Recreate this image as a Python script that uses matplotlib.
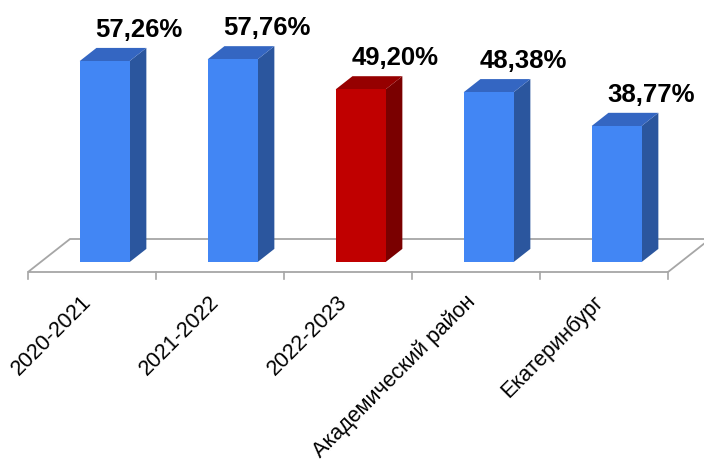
import matplotlib
matplotlib.use("Agg")
import matplotlib.pyplot as plt
from matplotlib.patches import Polygon

# данные
categories = ["2020-2021", "2021-2022", "2022-2023", "Академический район", "Екатеринбург"]
values = [57.26, 57.76, 49.20, 48.38, 38.77]
labels = ["57,26%", "57,76%", "49,20%", "48,38%", "38,77%"]
highlight = [False, False, True, False, False]

# цвета граней (фронт, бок, верх)
blue = ("#4286f4", "#2b569e", "#3466c2")
red = ("#c00000", "#7a0000", "#960000")

# косая проекция: глубина z от 0 (перед пола) до 1 (зад пола)
DX = 42 / 128      # сдвиг по x на всю глубину, в категориях
DY = 33 / 3.51     # сдвиг по y на всю глубину, в процентах


def proj(x, y, z):
    return (x + z * DX, y + z * DY)


fig = plt.figure(figsize=(7.04, 4.64), dpi=100)
ax = fig.add_axes([0, 0, 1, 1])
ax.set_xlim(-92 / 128, (704 - 92) / 128)
ax.set_ylim((273 - 464) / 3.51, 273 / 3.51)
ax.axis("off")

n = len(categories)
grey = "#a6a6a6"

# пол
floor = [proj(-0.5, 0, 0), proj(n - 0.5, 0, 0), proj(n - 0.5, 0, 1), proj(-0.5, 0, 1)]
ax.add_patch(Polygon(floor, closed=True, facecolor="white", edgecolor=grey, lw=1.3, zorder=1))

# деления оси категорий
for i in range(n + 1):
    ax.plot([i - 0.5, i - 0.5], [0, -1.9], color=grey, lw=1.2, zorder=1)

w = 0.39
z0, z1 = 0.3, 0.7
for i, (v, hl) in enumerate(zip(values, highlight)):
    front_c, side_c, top_c = red if hl else blue
    x0, x1 = i - w / 2, i + w / 2
    front = [proj(x0, 0, z0), proj(x1, 0, z0), proj(x1, v, z0), proj(x0, v, z0)]
    side = [proj(x1, 0, z0), proj(x1, 0, z1), proj(x1, v, z1), proj(x1, v, z0)]
    top = [proj(x0, v, z0), proj(x1, v, z0), proj(x1, v, z1), proj(x0, v, z1)]
    ax.add_patch(Polygon(side, closed=True, facecolor=side_c, edgecolor="none", zorder=3))
    ax.add_patch(Polygon(top, closed=True, facecolor=top_c, edgecolor="none", zorder=3))
    ax.add_patch(Polygon(front, closed=True, facecolor=front_c, edgecolor="none", zorder=4))

    fx, fy = proj(i + 0.27, v, z0)
    ax.text(fx, fy + 25 / 3.51, labels[i], ha="center", va="baseline",
            fontsize=18.5, fontweight="bold", family="Liberation Sans", zorder=5)

    ax.text(i + 0.03, -5.2, categories[i], rotation=45, ha="right", va="top",
            fontsize=15.5, family="Liberation Sans", color="black", zorder=5)

fig.savefig("out.png", dpi=100)
